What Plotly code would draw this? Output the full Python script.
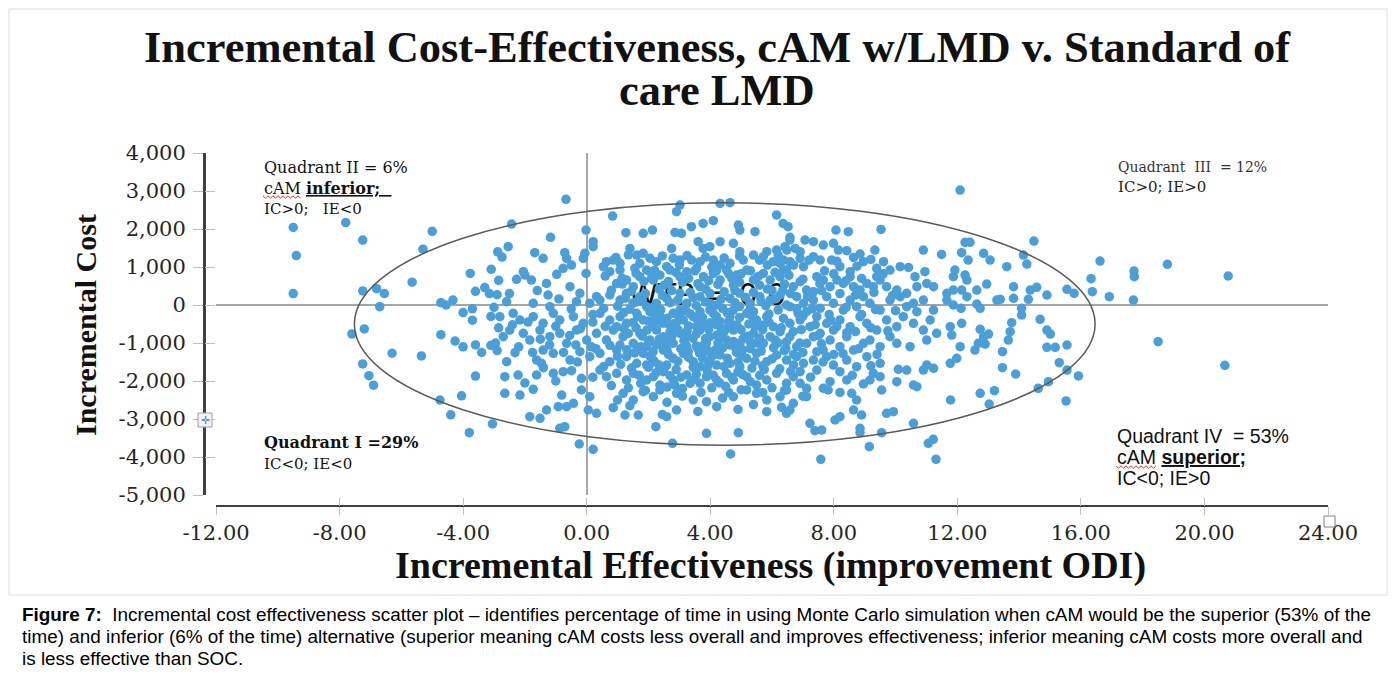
import plotly.graph_objects as go

# ---------------- text ----------------
title_line1 = "Incremental Cost-Effectiveness, cAM w/LMD v. Standard of"
title_line2 = "care LMD"
x_title = "Incremental Effectiveness (improvement ODI)"
y_title = "Incremental Cost"
wtp_label = "WTP = 0.0"
caption_lines = [
    "<b>Figure 7:</b>\u00a0 Incremental cost effectiveness scatter plot \u2013 identifies percentage of time in using Monte Carlo simulation when cAM would be the superior (53% of the",
    "time) and inferior (6% of the time) alternative (superior meaning cAM costs less overall and improves effectiveness; inferior meaning cAM costs more overall and",
    "is less effective than SOC.",
]

# ---------------- axes ----------------
x_tick_values = [-12, -8, -4, 0, 4, 8, 12, 16, 20, 24]
x_tick_labels = ["-12.00", "-8.00", "-4.00", "0.00", "4.00", "8.00", "12.00", "16.00", "20.00", "24.00"]
y_tick_values = [4000, 3000, 2000, 1000, 0, -1000, -2000, -3000, -4000, -5000]
y_tick_labels = ["4,000", "3,000", "2,000", "1,000", "0", "-1,000", "-2,000", "-3,000", "-4,000", "-5,000"]

# confidence ellipse (centre and half-axes, data units)
ellipse_center = (4.47, -500)
ellipse_radii = (11.99, 3190)
wtp_position = (3.9, 200)

# ---------------- simulated pairs (incremental effectiveness, incremental cost) ----------------
points_left = [
    (-9.5, 2040), (-7.8, 2170), (-7.25, 1710), (-9.4, 1300), (-5.0, 1940), (-5.3, 1470),
    (-9.5, 300), (-7.25, 370), (-6.8, 430), (-6.55, 300), (-5.65, 600), (-6.7, -45),
    (-7.2, -630), (-7.6, -760), (-7.25, -1550), (-7.05, -1860), (-6.9, -2110), (-6.3, -1270),
    (-5.35, -1340), (-4.75, -2500), (-4.4, -2890), (-3.8, -3360), (-3.05, -3130), (-4.05, -2390),
    (-3.6, -1870), (-4.72, 60), (-4.55, 0), (-4.33, 130), (-4.72, -780), (-4.26, -950),
    (-3.77, 830), (-3.09, 940), (-2.88, 1400), (-2.74, 1260), (-4.0, -1100), (-3.6, -1050),
    (-3.4, -1250), (-3.1, -1060), (-2.95, -1000), (-2.9, -1200), (-4.0, -200), (-3.7, -100),
    (-3.7, -400), (-3.1, -300), (-3.0, -60), (-2.85, -600), (-3.6, 360), (-3.3, 460),
    (-3.15, 300), (-2.9, 270), (-2.85, 650),
]

points_center_upper = [
    (-0.67, 2780), (0.84, 2340), (3.02, 2630), (2.91, 2455), (4.32, 2674), (4.64, 2692), (6.15, 2367),
    (-2.43, 2130), (-1.17, 1780), (-0.02, 1973), (1.27, 1902), (1.83, 1885), (2.13, 1973), (2.86, 1911),
    (3.07, 1885), (3.39, 2060), (3.77, 2148), (4.10, 2218), (4.91, 2104), (4.96, 1973), (5.45, 1929),
    (6.36, 2148), (6.52, 2060),
    (0.21, 1666), (0.21, 1534), (-2.54, 1534), (1.40, 1490), (1.62, 1315), (1.83, 1359), (2.75, 1490),
    (3.61, 1666), (3.77, 1490), (3.99, 1534), (4.32, 1666), (4.75, 1622), (4.96, 1403), (5.83, 1403),
    (6.15, 1446), (6.42, 1534), (6.58, 1709),
    (-1.68, 1376), (-1.41, 1227), (-0.71, 1376), (-0.65, 1227), (-0.11, 1227), (-0.06, 1359), (0.64, 1140),
    (0.86, 1183), (1.08, 1096), (1.72, 1096), (1.94, 920), (2.26, 1140), (2.59, 1008), (2.80, 1227),
    (3.02, 1183), (3.40, 1183), (3.67, 1140), (4.10, 1183), (4.32, 1052), (4.64, 1096), (5.07, 1183),
    (5.40, 1315), (5.72, 1271), (6.04, 1140), (6.37, 1183),
    (-0.49, 1052), (-0.76, 964), (-0.97, 806), (-0.02, 832), (-2.27, 675), (-2.05, 876), (-1.79, 657),
    (-2.0, 789), (-1.30, 569), (-0.54, 482), (0.54, 1008), (0.75, 876), (1.08, 920), (1.29, 657),
    (1.56, 964), (1.72, 745), (2.05, 876), (2.16, 657), (2.37, 789), (2.70, 920), (3.02, 745),
    (3.24, 876), (3.56, 964), (3.78, 745), (4.10, 832), (4.32, 657), (4.53, 920), (4.86, 789),
    (5.18, 920), (5.40, 657), (5.72, 832), (5.94, 657), (6.26, 745), (6.47, 920), (0.97, 569),
    (1.51, 482), (4.75, 525), (3.67, 482),
    (-1.25, 263), (-0.22, 306), (0.43, 131), (0.32, 219), (-2.59, 87), (-1.73, 43), (-1.19, -45),
    (-0.33, 87), (0.10, 43), (0.75, 263), (1.08, 131), (1.72, 219), (1.94, -45), (2.26, 43),
    (2.59, 175), (3.02, 306), (3.24, 43), (3.67, 219), (3.99, 306), (4.21, 0), (4.64, 175),
    (4.96, 306), (5.29, 43), (5.61, 219), (5.94, 131), (6.26, 263), (6.47, 0), (1.29, 306), (1.62, 87),
]

points_center_lower = [
    (-2.81, -308), (-2.38, -220), (-2.16, -395), (-1.73, -308), (-1.41, -483), (-1.08, -220), (-0.87, -395),
    (-0.43, -308), (-0.11, -483), (0.43, -220), (0.75, -395), (1.08, -308), (1.29, -483), (1.62, -220),
    (1.83, -395), (2.16, -571), (2.37, -308), (2.59, -483), (2.80, -220), (3.13, -395), (3.45, -308),
    (3.78, -483), (4.10, -220), (4.32, -439), (4.64, -308), (4.86, -527), (5.18, -220), (5.50, -395),
    (5.83, -308), (6.04, -571), (6.37, -352), (0.97, -571), (2.80, -571), (3.67, -176), (2.05, -176),
    (3.02, -132), (3.99, -132), (4.75, -132), (5.40, -176), (2.26, -395), (3.56, -571), (4.53, -615),
    (5.72, -527),
    (-2.70, -834), (-2.49, -659), (-2.05, -746), (-1.84, -922), (-1.51, -659), (-1.19, -834), (-0.87, -746),
    (-0.65, -1009), (-0.33, -659), (0.0, -922), (0.32, -746), (0.64, -922), (0.86, -659), (1.18, -834),
    (1.51, -1009), (1.72, -746), (2.05, -922), (2.26, -659), (2.48, -834), (2.80, -1009), (3.02, -746),
    (3.45, -878), (3.67, -659), (3.88, -1009), (4.21, -790), (4.53, -922), (4.75, -659), (5.07, -878),
    (5.40, -746), (5.72, -1009), (5.94, -834), (6.26, -702), (6.47, -966), (3.24, -1097), (1.94, -1097),
    (1.08, -1053), (2.70, -702), (3.24, -834), (3.99, -834), (4.37, -659), (4.96, -1009), (5.29, -966),
    (2.26, -1053), (3.78, -1053), (4.64, -1053),
    (-2.59, -1492), (-2.32, -1255), (-1.62, -1448), (-1.41, -1185), (-1.08, -1272), (-0.54, -1448),
    (-0.22, -1229), (0.10, -1360), (0.43, -1272), (0.75, -1492), (0.97, -1185), (1.29, -1360),
    (1.62, -1536), (1.83, -1272), (2.16, -1448), (2.48, -1185), (2.80, -1404), (3.13, -1272),
    (3.45, -1492), (3.78, -1229), (3.99, -1448), (4.32, -1316), (4.64, -1536), (4.86, -1229),
    (5.18, -1404), (5.50, -1272), (5.83, -1492), (6.15, -1316), (6.47, -1448), (2.59, -1580),
    (3.67, -1623), (4.21, -1580), (4.96, -1623), (3.29, -1229), (4.16, -1185), (1.94, -1580),
    (-2.22, -1842), (-2.65, -1886), (-1.62, -1842), (-1.46, -1536), (-1.08, -1799), (-0.76, -1755),
    (-0.49, -1729), (-0.17, -1930), (0.43, -1711), (0.64, -1886), (0.97, -1799), (1.29, -1974),
    (1.51, -1799), (1.94, -1974), (2.16, -1886), (2.48, -1755), (2.80, -1974), (3.24, -1842),
    (3.67, -2062), (3.88, -1886), (4.21, -1974), (4.53, -1799), (4.75, -1974), (5.18, -1886),
    (5.50, -2105), (5.83, -1974), (6.15, -1799), (6.47, -2062), (2.37, -2105),
    (-2.16, -2369), (-1.73, -2220), (-2.65, -2325), (-0.81, -2369), (-0.17, -2237), (0.10, -2413),
    (1.18, -2325), (1.51, -2500), (1.83, -2281), (2.16, -2413), (2.37, -2237), (2.91, -2325),
    (3.45, -2500), (3.88, -2544), (4.21, -2676), (4.75, -2413), (5.18, -2237), (5.50, -2325),
    (5.83, -2500), (6.26, -2413), (6.47, -2237),
    (-1.84, -2939), (-1.51, -2983), (-1.30, -2763), (-0.92, -2676), (-0.65, -2676), (-0.43, -2588),
    (0.05, -2763), (0.32, -2851), (0.86, -2702), (1.24, -2895), (1.67, -2895), (2.24, -3202),
    (2.59, -2939), (2.45, -2880), (2.91, -2763), (5.83, -2807), (6.31, -2693), (6.47, -2851),
    (-0.87, -3246), (-0.71, -3202),
    (-0.24, -3658), (0.21, -3798), (2.78, -3640), (3.88, -3377), (4.66, -3921), (4.91, -3360),
]

points_center_fill = [
    (0.95, 1250), (1.35, 1320), (2.05, 1230), (2.45, 1290), (3.25, 1300), (3.85, 1260), (4.45, 1240),
    (4.95, 1290), (5.6, 1180), (6.2, 1310),
    (0.6, 760), (1.15, 700), (1.6, 830), (2.2, 910), (2.9, 850), (3.3, 700), (3.95, 640), (4.2, 900),
    (4.7, 700), (5.0, 820), (5.55, 750), (6.1, 860),
    (0.8, 390), (1.45, 360), (1.9, 300), (2.35, 420), (2.75, 380), (3.35, 330), (3.85, 420), (4.45, 350),
    (4.8, 380), (5.4, 330), (5.85, 420), (6.35, 380),
    (0.55, -90), (1.0, -30), (1.4, -110), (2.15, -60), (2.7, 60), (3.2, -150), (3.55, -20), (4.0, 40),
    (4.4, -90), (4.95, -40), (5.3, -100), (5.8, -20), (6.2, -130),
    (0.6, -560), (1.2, -620), (1.5, -460), (1.95, -660), (2.45, -480), (2.95, -640), (3.3, -550),
    (3.6, -420), (3.95, -640), (4.2, -520), (4.65, -470), (5.0, -650), (5.45, -560), (5.9, -450), (6.3, -600),
    (0.3, -1150), (0.75, -1060), (1.3, -1180), (1.75, -1100), (2.15, -1230), (2.6, -1190), (3.05, -1150),
    (3.55, -1080), (3.95, -1220), (4.4, -1130), (4.8, -1100), (5.3, -1150), (5.65, -1210), (6.05, -1120),
    (6.4, -1200),
    (0.55, -1620), (1.1, -1560), (1.45, -1660), (2.0, -1640), (2.35, -1580), (2.9, -1700), (3.45, -1640),
    (3.9, -1710), (4.45, -1620), (4.9, -1760), (5.35, -1660), (5.7, -1600), (6.25, -1680),
    (0.8, -2120), (1.35, -2180), (1.75, -2060), (2.6, -2160), (3.1, -2200), (3.35, -2060), (4.05, -2180),
    (4.5, -2140), (5.0, -2230), (5.3, -2020), (6.0, -2180),
    (1.0, -2500), (2.6, -2560), (3.1, -2400), (4.4, -2450), (5.4, -2620),
    (-2.4, -520), (-1.9, -450), (-1.5, -900), (-1.0, -560), (-0.55, -800), (-0.2, -620), (0.2, -450),
    (-2.2, -1100), (-1.75, -1250), (-1.2, -1050), (-0.75, -1250), (-0.35, -1050), (0.15, -1100),
    (-2.5, 300), (-1.6, 380), (-0.9, 160), (-0.5, -100), (0.2, -250), (-1.4, -1650), (-0.3, -1500),
    (0.2, -1900), (-2.0, -2050), (-1.0, -2000),
]

points_core_dense = [
    (1.15, 550), (1.85, 620), (2.5, 520), (3.1, 600), (3.6, 560), (4.25, 540), (4.95, 600), (5.6, 520),
    (6.0, 380),
    (1.25, 180), (1.8, 90), (2.45, 250), (2.95, 130), (3.45, 200), (3.85, 80), (4.35, 150), (4.8, 60),
    (5.15, 200), (5.65, 90), (6.1, 160),
    (1.2, -200), (1.65, -300), (2.2, -250), (2.6, -350), (3.0, -280), (3.35, -230), (3.75, -330),
    (4.2, -300), (4.55, -200), (4.95, -330), (5.35, -280), (5.9, -240),
    (1.35, -750), (1.8, -820), (2.35, -900), (2.75, -830), (3.15, -940), (3.55, -760), (3.85, -880),
    (4.35, -850), (4.75, -960), (5.2, -820), (5.6, -870), (6.1, -920),
    (1.0, -1350), (1.55, -1260), (2.05, -1350), (2.65, -1300), (2.95, -1480), (3.3, -1380), (3.75, -1400),
    (4.1, -1320), (4.55, -1400), (5.0, -1320), (5.45, -1480), (6.0, -1420),
    (1.7, -1850), (2.25, -1780), (2.7, -1860), (3.05, -1900), (3.55, -1820), (4.1, -1850), (4.7, -1900),
    (5.05, -1830), (5.6, -1850),
    (7.0, -300), (7.5, -800), (8.0, -1300), (7.3, 300), (7.9, -400), (6.9, -1000),
    (1.5, 50), (2.0, -420), (2.4, -130), (2.85, -480), (3.25, -690), (3.65, -1260), (4.0, -470),
    (4.45, -700), (4.85, -1250), (5.25, -500), (5.5, -1000), (1.65, -1150), (2.2, -1500), (2.55, -1000),
    (3.5, -1950), (3.95, -1560), (4.3, -2050), (4.9, -1500), (5.75, -1700), (6.2, -1000),
    (1.9, -2250), (2.85, -2100), (3.7, -2300), (4.6, -2300), (5.7, -2300), (2.1, 700), (2.65, 620),
    (3.5, 900), (4.05, 1000), (4.6, 820), (5.3, 900), (3.0, 1050), (5.85, 1050), (6.4, 550),
    (6.7, -1300), (6.6, -1750), (6.8, -100), (1.4, -2650), (3.6, -2800), (4.9, -2750),
    (3.2, -1040), (3.6, -1150), (2.5, -1700), (4.25, -1000), (5.05, -1180), (3.0, -400), (4.6, -430),
    (2.0, -980), (1.6, -600), (5.7, -650),
]

points_right = [
    (12.09, 3025), (14.48, 1683),
    (8.07, 1973), (8.47, 1929), (9.53, 1990),
    (6.58, 1780), (7.07, 1709), (7.34, 1666), (7.66, 1578), (7.99, 1622), (8.15, 1446), (8.42, 1429),
    (8.85, 1341), (9.33, 1446), (6.48, 1446), (6.75, 1490), (6.91, 1403), (10.90, 1446), (11.49, 1332),
    (12.25, 1650), (12.41, 1650),
    (7.34, 1271), (7.56, 1183), (6.26, 1096), (6.58, 1140), (7.02, 1008), (7.93, 1183), (8.20, 1008),
    (8.53, 876), (8.96, 1140), (9.39, 964), (9.61, 1140), (9.82, 920), (10.15, 1008), (10.42, 990),
    (10.63, 745), (10.95, 876), (6.37, 920), (6.91, 1227), (8.64, 1253), (12.14, 1376), (12.35, 1183),
    (12.85, 1359), (13.06, 1183), (13.60, 1008), (14.14, 1315), (14.25, 1078), (11.92, 920),
    (11.87, 745), (12.25, 789), (12.31, 657),
    (6.69, 482), (6.91, 613), (7.12, 394), (7.45, 745), (7.66, 657), (7.88, 482), (8.10, 657),
    (8.31, 569), (8.53, 745), (8.64, 482), (8.85, 394), (9.07, 569), (9.28, 482), (9.50, 657),
    (9.71, 482), (10.04, 394), (10.36, 306), (10.69, 482), (11.01, 569), (11.23, 482), (11.66, 306),
    (11.87, 394), (12.14, 394), (12.63, 394), (12.95, 552), (7.34, 350), (9.39, 745), (13.82, 482),
    (14.36, 394), (14.57, 464), (14.90, 263), (15.55, 412),
    (6.58, -45), (6.80, 219), (7.02, 43), (7.34, 131), (7.56, -88), (7.77, 219), (7.99, 43),
    (8.31, -132), (8.53, 131), (8.74, -45), (8.96, 219), (9.17, 43), (9.50, -132), (9.82, 131),
    (10.15, 219), (10.36, -45), (10.58, 43), (10.90, 131), (11.23, -132), (11.66, 131), (11.87, 0),
    (12.31, 219), (12.63, 26), (12.74, -88), (12.12, -88), (13.28, 131), (13.39, 150), (13.82, 175),
    (14.30, 150), (14.08, -88), (7.12, -176), (10.69, -176),
    (6.58, -483), (6.91, -395), (7.23, -571), (7.45, -308), (7.77, -483), (7.99, -659), (8.20, -395),
    (8.53, -571), (8.85, -308), (9.07, -483), (9.39, -659), (9.71, -395), (10.04, -571), (10.25, -308),
    (10.58, -483), (10.90, -659), (11.12, -395), (11.33, -746), (11.77, -571), (11.82, -790),
    (12.14, -483), (12.74, -641), (12.85, -834), (13.01, -764), (13.76, -465), (13.71, -702),
    (14.08, -264), (14.68, -378), (14.90, -659), (15.01, -764), (6.69, -702), (7.56, -746), (8.42, -729),
    (6.58, -834), (6.80, -1097), (7.12, -1009), (7.34, -834), (7.66, -1185), (7.88, -922), (8.20, -1097),
    (8.42, -834), (8.64, -1185), (8.96, -1009), (9.17, -922), (9.50, -1097), (9.82, -834), (10.04, -1009),
    (10.47, -1097), (11.01, -922), (12.09, -1097), (12.57, -1185), (12.68, -1009), (12.90, -1027),
    (13.46, -1229), (13.65, -922), (14.90, -1115), (15.17, -1115), (15.55, -1053), (7.45, -1229),
    (6.80, -1360), (7.02, -1536), (7.34, -1448), (7.45, -1711), (7.77, -1360), (7.99, -1580),
    (8.20, -1755), (8.42, -1448), (8.74, -1623), (9.07, -1360), (9.50, -1536), (10.09, -1693),
    (10.36, -1711), (10.90, -1711), (11.01, -1580), (11.23, -1667), (11.77, -1536), (11.98, -1404),
    (13.46, -1649), (15.30, -1518), (15.55, -1711), (6.91, -1755),
    (6.91, -2062), (7.12, -2193), (7.66, -2193), (7.82, -2237), (7.88, -2018), (8.42, -1974),
    (8.96, -2079), (9.17, -1974), (9.28, -1799), (9.50, -1886), (9.55, -2237), (10.04, -2018),
    (10.58, -2105), (10.69, -2149), (13.89, -1816), (12.74, -2325), (13.20, -2255), (14.62, -2193),
    (14.95, -2018), (6.69, -1886),
    (6.69, -2588), (6.58, -2763), (7.12, -2413), (8.58, -2325), (8.74, -2500), (8.64, -2763),
    (8.90, -2895), (9.71, -2851), (9.93, -2807), (13.03, -2606), (11.78, -2500),
    (7.23, -3114), (7.39, -3307), (7.61, -3290), (8.04, -3026), (8.20, -2939), (8.85, -3246),
    (8.85, -3360), (9.55, -3360), (10.58, -3114), (11.06, -3640), (11.22, -3535), (11.31, -4061),
    (9.15, -3728), (7.58, -4061),
    (6.7, 1050), (7.2, 1180), (7.7, 900), (8.1, 1150), (8.75, 1020), (9.2, 1200), (6.55, 780),
    (7.0, 680), (7.55, 560), (8.0, 820), (8.4, 640), (8.9, 700), (9.6, 820), (6.6, 300), (7.15, 220),
    (7.6, 380), (8.2, 300), (8.7, 260), (9.3, 330), (9.9, 250), (6.85, -230), (7.3, -100), (7.85, -250),
    (8.4, -60), (8.9, -250), (9.35, -120), (10.0, -150), (6.95, -650), (7.4, -520), (8.1, -560),
    (8.7, -700), (9.2, -600), (9.75, -680), (6.45, -1150), (7.0, -1250), (7.6, -1020), (8.3, -1280),
    (8.8, -1150), (9.4, -1300), (6.7, -1580), (7.25, -1900), (7.65, -1500), (8.6, -1850), (9.2, -1600),
    (6.4, -2250), (7.0, -2400), (8.2, -2300),
]

points_far_right = [
    (16.62, 1157), (18.8, 1070), (17.72, 894), (17.73, 745), (20.77, 763), (16.33, 692),
    (15.78, 307), (16.37, 350), (16.92, 219), (17.7, 131), (15.92, -1867), (15.52, -2525),
    (18.5, -965), (20.66, -1587),
]

all_points = (points_left + points_center_upper + points_center_lower + points_center_fill
              + points_core_dense + points_right + points_far_right)
inc_effect = [p[0] for p in all_points]
inc_cost = [p[1] for p in all_points]

# ---------------- figure geometry ----------------
# The page adds an 8px body margin, so the figure is kept small enough to avoid
# scroll bars and reference page pixels are shifted by that margin.
W, H = 1381, 661
OFF = 8
def px(x):
    return (x - OFF) / W
def py(y):
    return 1 - (y - OFF) / H

serif = "Liberation Serif, Times New Roman, serif"
serif_wide = "DejaVu Serif, serif"
sans = "Liberation Sans, Arial, sans-serif"
dot_color = "#4A9FD9"

fig = go.Figure()

# text lying underneath the dots
fig.add_trace(go.Scatter(
    x=[wtp_position[0]], y=[wtp_position[1]], mode="text", text=[wtp_label],
    textfont=dict(family="DejaVu Sans, sans-serif", size=30, color="#111111"),
    hoverinfo="skip", showlegend=False,
))

fig.add_trace(go.Scatter(
    x=inc_effect, y=inc_cost, mode="markers",
    marker=dict(size=9.5, color=dot_color, line=dict(width=0)),
    hoverinfo="x+y", showlegend=False,
))

# helper traces so the "inside" tick overlay axes are drawn
fig.add_trace(go.Scatter(x=[], y=[], xaxis="x2", yaxis="y", showlegend=False, hoverinfo="skip"))
fig.add_trace(go.Scatter(x=[], y=[], xaxis="x", yaxis="y2", showlegend=False, hoverinfo="skip"))

x_dom = [px(216), px(1328)]
y_dom = [py(495), py(153)]
x_axis_pos = py(506)
y_axis_pos = px(204)
tick_col = "#bfbfbf"
tickfont = dict(family=serif_wide, size=21, color="#262626")

fig.update_layout(
    width=W, height=H,
    margin=dict(l=0, r=0, t=0, b=0, pad=0, autoexpand=False),
    paper_bgcolor="white", plot_bgcolor="rgba(0,0,0,0)",
    showlegend=False,
    xaxis=dict(
        domain=x_dom, range=[-12, 24], anchor="free", position=x_axis_pos, automargin=False,
        showline=True, linecolor="#404040", linewidth=1.5,
        ticks="outside", ticklen=8, tickcolor=tick_col, tickwidth=1,
        tickvals=x_tick_values, ticktext=x_tick_labels, tickfont=tickfont,
        ticklabelstandoff=0,
        showgrid=False, zeroline=True, zerolinecolor="#a6a6a6", zerolinewidth=2,
    ),
    xaxis2=dict(
        domain=x_dom, range=[-12, 24], overlaying="x", anchor="free", position=x_axis_pos,
        automargin=False,
        showline=False, ticks="inside", ticklen=8, tickcolor=tick_col, tickwidth=1,
        tickvals=x_tick_values, showticklabels=False, showgrid=False, zeroline=False,
    ),
    yaxis=dict(
        domain=y_dom, range=[-5000, 4000], anchor="free", position=y_axis_pos, automargin=False,
        showline=True, linecolor="#404040", linewidth=3,
        ticks="outside", ticklen=10, tickcolor=tick_col, tickwidth=1,
        tickvals=y_tick_values, ticktext=y_tick_labels, tickfont=tickfont,
        ticklabelstandoff=3,
        showgrid=False, zeroline=True, zerolinecolor="#a6a6a6", zerolinewidth=2,
    ),
    yaxis2=dict(
        domain=y_dom, range=[-5000, 4000], overlaying="y", side="left", anchor="free",
        position=y_axis_pos, automargin=False, showline=False, ticks="inside", ticklen=10,
        tickcolor=tick_col, tickwidth=1, tickvals=y_tick_values, showticklabels=False,
        showgrid=False, zeroline=False,
    ),
)

# ellipse
cx, cy = ellipse_center
rx, ry = ellipse_radii
fig.add_shape(type="circle", xref="x", yref="y",
              x0=cx - rx, x1=cx + rx, y0=cy - ry, y1=cy + ry,
              line=dict(color="#5a5a5a", width=1.5))

# frame of the chart box
fig.add_shape(type="rect", xref="paper", yref="paper",
              x0=px(9), x1=px(1387), y0=py(595), y1=py(9),
              line=dict(color="#dcdcdc", width=1), layer="below")

# small editor handles
fig.add_shape(type="rect", xref="paper", yref="paper",
              x0=px(198), x1=px(212), y0=py(427), y1=py(413),
              fillcolor="#f2f2f2", line=dict(color="#a0a0a0", width=1))
fig.add_shape(type="rect", xref="paper", yref="paper",
              x0=px(1324), x1=px(1335), y0=py(527), y1=py(516),
              fillcolor="white", line=dict(color="#808080", width=1))

# red spell-check squiggles under "cAM"
def squiggle(x_start, x_end, y_mid):
    pts = []
    x = x_start
    up = True
    while x <= x_end:
        pts.append((px(x), py(y_mid - 1.2 if up else y_mid + 1.2)))
        up = not up
        x += 2.5
    return "M " + " L ".join(f"{a:.5f},{b:.5f}" for a, b in pts)

for xs, xe, ym in [(263, 302, 197), (1116, 1156, 467)]:
    fig.add_shape(type="path", xref="paper", yref="paper", path=squiggle(xs, xe, ym),
                  line=dict(color="#e03030", width=1))

ann = []
def add_text(text, x, y, size, family, color="#111111", xanchor="left", yanchor="middle", angle=0):
    ann.append(dict(text=text, x=px(x), y=py(y), xref="paper", yref="paper",
                    xanchor=xanchor, yanchor=yanchor, showarrow=False, textangle=angle,
                    font=dict(family=family, size=size, color=color)))

add_text("<b>" + title_line1 + "</b>", 717, 47, 44.5, serif, "#111111", "center")
add_text("<b>" + title_line2 + "</b>", 717, 90, 44.5, serif, "#111111", "center")
add_text("<b>" + x_title + "</b>", 770, 565, 38, serif, "#111111", "center")
add_text("<b>" + y_title + "</b>", 85, 325, 30, serif, "#111111", "center", angle=-90)

add_text("\u271b", 205, 420, 11, "DejaVu Sans, sans-serif", "#3c78d8", "center")

add_text("Quadrant II = 6%", 262, 167, 16, serif_wide)
add_text("cAM <b><u>inferior;\u00a0\u00a0</u></b>", 262, 188, 16, serif_wide)
add_text("IC>0;\u00a0\u00a0\u00a0IE<0", 262, 209, 15, serif_wide)

add_text("Quadrant\u00a0\u00a0III\u00a0\u00a0= 12%", 1116, 167, 14, serif_wide, "#333333")
add_text("IC>0; IE>0", 1116, 187, 15, serif_wide, "#222222")

add_text("<b>Quadrant I =29%</b>", 262, 442, 16, serif_wide)
add_text("IC<0; IE<0", 262, 464, 15, serif_wide)

add_text("Quadrant IV\u00a0 = 53%", 1115, 436, 19.5, sans)
add_text("cAM <b><u>superior;</u></b>", 1115, 457, 19.5, sans)
add_text("IC<0; IE>0", 1115, 478, 19.5, sans)

for i, line in enumerate(caption_lines):
    add_text(line, 20, 614 + 22 * i, 18.9, sans, "#000000")

fig.update_layout(annotations=ann)

fig.write_html("out.html")
